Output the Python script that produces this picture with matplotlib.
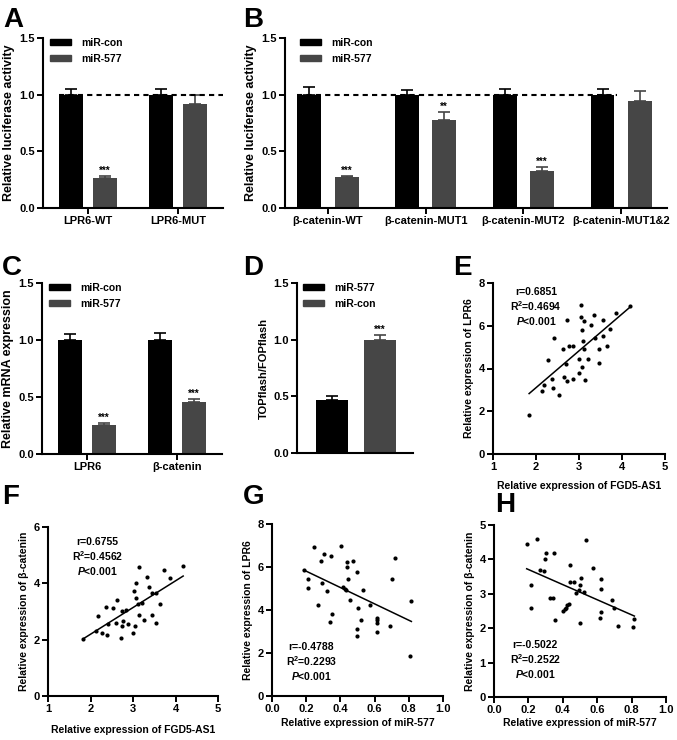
import matplotlib
matplotlib.use('Agg')
import matplotlib.pyplot as plt
import numpy as np

plt.rcParams['font.family'] = ['Liberation Sans', 'DejaVu Sans']
plt.rcParams['font.weight'] = 'bold'
plt.rcParams['axes.labelweight'] = 'bold'
plt.rcParams['mathtext.fontset'] = 'custom'
plt.rcParams['mathtext.rm'] = 'Liberation Sans:bold'
plt.rcParams['mathtext.it'] = 'Liberation Sans:italic:bold'
plt.rcParams['mathtext.bf'] = 'Liberation Sans:bold'

BLACK = '#000000'
GRAY = '#464646'

# ---- panel A: luciferase LPR6
a_groups = ['LPR6-WT', 'LPR6-MUT']
a_con = [1.0, 1.0]
a_con_err = [0.05, 0.05]
a_mir = [0.265, 0.92]
a_mir_err = [0.015, 0.08]
a_sig = ['***', '']

# ---- panel B: luciferase beta-catenin
b_groups = ['β-catenin-WT', 'β-catenin-MUT1', 'β-catenin-MUT2', 'β-catenin-MUT1&2']
b_con = [1.0, 1.0, 1.0, 1.0]
b_con_err = [0.065, 0.04, 0.05, 0.05]
b_mir = [0.27, 0.78, 0.33, 0.94]
b_mir_err = [0.012, 0.065, 0.03, 0.09]
b_sig = ['***', '**', '***', '']

# ---- panel C: mRNA expression
c_groups = ['LPR6', 'β-catenin']
c_con = [1.0, 1.0]
c_con_err = [0.055, 0.06]
c_mir = [0.255, 0.46]
c_mir_err = [0.015, 0.025]
c_sig = ['***', '***']

# ---- panel D: TOPflash/FOPflash
d_labels = ['miR-577', 'miR-con']
d_vals = [0.47, 1.0]
d_err = [0.03, 0.045]
d_sig = ['', '***']

# ---- panel E: LPR6 vs FGD5-AS1
e_x = [1.84, 2.13, 2.19, 2.29, 2.38, 2.39, 2.42, 2.53, 2.62, 2.64, 2.69, 2.72, 2.73,
       2.76, 2.86, 2.87, 2.99, 3.00, 3.04, 3.04, 3.07, 3.08, 3.09, 3.11, 3.12, 3.14,
       3.20, 3.28, 3.34, 3.38, 3.46, 3.47, 3.55, 3.55, 3.65, 3.73, 3.87, 4.18]
e_y = [1.83, 2.97, 3.23, 4.41, 3.53, 3.11, 5.45, 2.77, 4.92, 3.61, 4.22, 6.25, 3.42,
       5.03, 3.53, 5.06, 4.44, 3.81, 6.98, 6.41, 4.05, 5.78, 5.27, 6.20, 4.92, 3.44,
       4.44, 6.02, 6.50, 5.45, 4.25, 4.91, 6.25, 5.50, 5.03, 5.86, 6.59, 6.91]
e_stats = ['r=0.6851', 'R$^2$=0.4694', '$P$<0.001']

# ---- panel F: beta-catenin vs FGD5-AS1
f_x = [1.83, 2.13, 2.17, 2.28, 2.36, 2.38, 2.42, 2.52, 2.61, 2.63, 2.73, 2.73, 2.77,
       2.72, 2.84, 2.88, 3.01, 3.03, 3.05, 3.06, 3.08, 3.12, 3.13, 3.13, 3.20, 3.27,
       3.32, 3.38, 3.45, 3.45, 3.55, 3.55, 3.64, 3.73, 3.88, 4.18]
f_y = [2.01, 2.29, 2.83, 2.23, 3.15, 2.16, 2.57, 3.14, 2.60, 3.42, 3.02, 2.47, 2.66,
       2.07, 3.04, 2.55, 2.23, 3.72, 2.48, 3.47, 4.02, 3.28, 4.59, 2.87, 3.31, 2.70,
       4.22, 3.87, 3.66, 2.88, 2.60, 3.65, 3.26, 4.47, 4.20, 4.62]
f_stats = ['r=0.6755', 'R$^2$=0.4562', '$P$<0.001']

# ---- panel G: LPR6 vs miR-577
g_x = [0.185, 0.212, 0.209, 0.246, 0.267, 0.287, 0.292, 0.302, 0.322, 0.343, 0.341,
       0.353, 0.403, 0.415, 0.425, 0.431, 0.437, 0.441, 0.444, 0.458, 0.474, 0.495,
       0.497, 0.499, 0.503, 0.520, 0.532, 0.571, 0.614, 0.616, 0.616, 0.616, 0.688,
       0.700, 0.717, 0.809, 0.815]
g_y = [5.87, 5.46, 5.03, 6.94, 4.23, 6.26, 5.26, 6.60, 4.90, 6.51, 3.44, 3.81, 6.97,
       5.06, 5.00, 4.92, 6.01, 6.23, 5.45, 4.45, 6.26, 5.79, 2.77, 3.10, 4.08, 3.52,
       4.92, 4.23, 3.63, 3.52, 3.41, 2.97, 3.24, 5.46, 6.40, 1.84, 4.40]
g_stats = ['r=-0.4788', 'R$^2$=0.2293', '$P$<0.001']

# ---- panel H: beta-catenin vs miR-577
h_x = [0.190, 0.213, 0.217, 0.248, 0.269, 0.293, 0.297, 0.304, 0.324, 0.343, 0.347,
       0.357, 0.403, 0.413, 0.421, 0.426, 0.434, 0.440, 0.444, 0.463, 0.477, 0.496,
       0.500, 0.504, 0.500, 0.523, 0.535, 0.576, 0.620, 0.620, 0.622, 0.618, 0.686,
       0.700, 0.719, 0.806, 0.816]
h_y = [4.46, 3.25, 2.60, 4.60, 3.68, 3.65, 4.01, 4.18, 2.88, 2.88, 4.20, 2.25, 2.49,
       2.55, 2.59, 2.66, 2.71, 3.33, 3.85, 3.33, 3.03, 3.12, 3.25, 3.47, 2.16, 3.05,
       4.56, 3.74, 3.43, 3.15, 2.48, 2.31, 2.83, 2.59, 2.07, 2.03, 2.26]
h_stats = ['r=-0.5022', 'R$^2$=0.2522', '$P$<0.001']

W, H = 677, 740
fig = plt.figure(figsize=(W / 100, H / 100), dpi=100)


def rect(l, r, t, b):
    return [l / W, 1 - b / H, (r - l) / W, (b - t) / H]


def style(ax):
    for s in ['top', 'right']:
        ax.spines[s].set_visible(False)
    for s in ['left', 'bottom']:
        ax.spines[s].set_linewidth(1.5)
    ax.tick_params(direction='out', length=4, width=1.4, labelsize=8, pad=2)
    for lab in ax.get_xticklabels() + ax.get_yticklabels():
        lab.set_fontweight('bold')


def stars(ax, x, top, s):
    if s:
        ax.annotate(s, (x, top), xytext=(0, 0), textcoords='offset points',
                    ha='center', va='bottom', fontsize=7, fontweight='bold')


def legend(ax, labels, anchor):
    hs = [plt.Rectangle((0, 0), 1, 1, color=BLACK), plt.Rectangle((0, 0), 1, 1, color=GRAY)]
    ax.legend(hs, labels, loc='upper left', bbox_to_anchor=anchor, frameon=False,
              fontsize=7.5, handlelength=2.0, handleheight=0.5, handletextpad=1.0,
              labelspacing=0.55, borderaxespad=0, borderpad=0)


def bar_panel(ax, groups, con, con_err, mir, mir_err, sig, width, off, xlim, ylabel, dash_end=None):
    x = np.arange(len(groups))
    z = np.zeros(len(groups))
    ax.bar(x - off, con, width, color=BLACK)
    ax.errorbar(x - off, con, yerr=[z, con_err], fmt='none', ecolor=BLACK,
                elinewidth=1.2, capsize=4, capthick=1.2)
    ax.bar(x + off, mir, width, color=GRAY)
    ax.errorbar(x + off, mir, yerr=[z, mir_err], fmt='none', ecolor=GRAY,
                elinewidth=1.2, capsize=4, capthick=1.2)
    for i in range(len(groups)):
        stars(ax, x[i] + off, mir[i] + mir_err[i], sig[i])
    if dash_end is not None:
        ax.plot([-off - width / 2, dash_end], [1, 1], color=BLACK, lw=1.5,
                linestyle=(0, (2.5, 2)), zorder=5)
    ax.set_xlim(*xlim)
    ax.set_ylim(0, 1.5)
    ax.set_yticks([0, 0.5, 1.0, 1.5])
    ax.set_xticks(x)
    ax.set_xticklabels(groups)
    ax.set_ylabel(ylabel, fontsize=9, labelpad=3)
    style(ax)
    legend(ax, ['miR-con', 'miR-577'], (0.04, 1.0))


def scatter_panel(ax, xs, ys, stats, xlim, ylim, xticks, yticks, xlabel, ylabel, tpos, xpad):
    xs = np.array(xs)
    ys = np.array(ys)
    ax.plot(xs, ys, 'o', color=BLACK, ms=3, mew=0, clip_on=False)
    k, b = np.polyfit(xs, ys, 1)
    xl = np.array([xs.min(), xs.max()])
    ax.plot(xl, k * xl + b, color=BLACK, lw=1.1)
    ax.set_xlim(*xlim)
    ax.set_ylim(*ylim)
    ax.set_xticks(xticks)
    ax.set_yticks(yticks)
    ax.set_xlabel(xlabel, fontsize=7.5, labelpad=xpad)
    ax.set_ylabel(ylabel, fontsize=7.5, labelpad=3)
    tx, ty = tpos
    for i, s in enumerate(stats):
        ax.text(tx, ty - i * 0.085, s, transform=ax.transAxes, ha='center', va='center',
                fontsize=7.5, fontweight='bold')
    style(ax)


axA = fig.add_axes(rect(43, 223, 38, 208))
bar_panel(axA, a_groups, a_con, a_con_err, a_mir, a_mir_err, a_sig, 0.267, 0.19,
          (-0.5, 1.5), 'Relative luciferase activity', dash_end=1.5)

axB = fig.add_axes(rect(285, 667, 38, 208))
bar_panel(axB, b_groups, b_con, b_con_err, b_mir, b_mir_err, b_sig, 0.245, 0.19,
          (-0.44, 3.47), 'Relative luciferase activity', dash_end=2.96)

axC = fig.add_axes(rect(42, 222, 283, 454))
bar_panel(axC, c_groups, c_con, c_con_err, c_mir, c_mir_err, c_sig, 0.267, 0.19,
          (-0.5, 1.5), 'Relative mRNA expression')

axD = fig.add_axes(rect(297, 413, 283, 453))
dx = np.arange(len(d_vals))
axD.bar(dx, d_vals, 0.67, color=[BLACK, GRAY])
axD.errorbar(dx[:1], d_vals[:1], yerr=[[0], d_err[:1]], fmt='none', ecolor=BLACK,
             elinewidth=1.2, capsize=4, capthick=1.2)
axD.errorbar(dx[1:], d_vals[1:], yerr=[[0], d_err[1:]], fmt='none', ecolor=GRAY,
             elinewidth=1.2, capsize=4, capthick=1.2)
for i in range(len(d_vals)):
    stars(axD, dx[i], d_vals[i] + d_err[i], d_sig[i])
axD.set_xlim(-0.73, 1.69)
axD.set_ylim(0, 1.5)
axD.set_yticks([0, 0.5, 1.0, 1.5])
axD.set_xticks([])
axD.set_ylabel('TOPflash/FOPflash', fontsize=8, labelpad=3)
style(axD)
legend(axD, d_labels, (0.05, 1.0))

axE = fig.add_axes(rect(493, 665, 283, 454))
scatter_panel(axE, e_x, e_y, e_stats, (1, 5), (0, 8), [1, 2, 3, 4, 5], [0, 2, 4, 6, 8],
              'Relative expression of FGD5-AS1', 'Relative expression of LPR6',
              (0.25, 0.947), 6)

axF = fig.add_axes(rect(48, 218, 527, 696))
scatter_panel(axF, f_x, f_y, f_stats, (1, 5), (0, 6), [1, 2, 3, 4, 5], [0, 2, 4, 6],
              'Relative expression of FGD5-AS1', 'Relative expression of β-catenin',
              (0.29, 0.91), 8)

axG = fig.add_axes(rect(272, 443, 524, 696))
scatter_panel(axG, g_x, g_y, g_stats, (0, 1), (0, 8), [0, 0.2, 0.4, 0.6, 0.8, 1.0],
              [0, 2, 4, 6, 8], 'Relative expression of miR-577', 'Relative expression of LPR6',
              (0.23, 0.285), 3)

axH = fig.add_axes(rect(494, 666, 525, 697))
scatter_panel(axH, h_x, h_y, h_stats, (0, 1), (0, 5), [0, 0.2, 0.4, 0.6, 0.8, 1.0],
              [0, 1, 2, 3, 4, 5], 'Relative expression of miR-577',
              'Relative expression of β-catenin', (0.24, 0.305), 2)

for letter, (px, py) in zip('ABCDEFGH', [(3, 7), (243, 7), (2, 255), (243, 255),
                                          (453, 255), (2, 484), (243, 484), (495, 492)]):
    fig.text(px / W, 1 - py / H, letter, fontsize=20, fontweight='bold', ha='left', va='top')

fig.savefig('out.png', dpi=100)
